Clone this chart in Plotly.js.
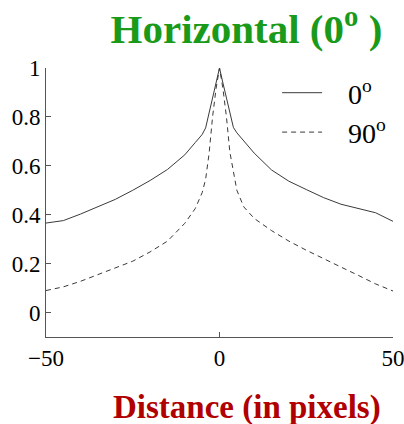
<!DOCTYPE html>
<html><head><meta charset="utf-8">
<script src="https://cdn.plot.ly/plotly-3.0.1.min.js"></script>
<style>body{margin:0;background:#fff}#c{width:404px;height:424px}</style>
</head><body><div id="c"></div>
<script>
const distance = [-50,-45,-40,-35,-30,-25,-20,-15,-10,-7,-5,-4,-3,-2,-1,0,1,2,3,4,5,7,10,15,20,25,30,35,40,45,50];
const horiz0 = [0.366,0.376,0.403,0.433,0.463,0.500,0.540,0.585,0.645,0.695,0.728,0.755,0.815,0.875,0.938,1.0,0.938,0.875,0.815,0.757,0.735,0.700,0.652,0.583,0.537,0.503,0.470,0.443,0.427,0.408,0.373];
const horiz90 = [0.090,0.105,0.128,0.155,0.185,0.210,0.248,0.292,0.365,0.425,0.490,0.545,0.650,0.800,0.915,1.0,0.915,0.800,0.655,0.570,0.500,0.432,0.385,0.335,0.292,0.255,0.222,0.186,0.152,0.117,0.088];
const xTicks = [-50,0,50];
const xTickText = ['\u221250','0','50'];
const yTicks = [0,0.2,0.4,0.6,0.8,1];
const yTickText = ['0','0.2','0.4','0.6','0.8','1'];

const serif = 'Liberation Serif, Times New Roman, serif';
const data = [
  {x: distance, y: horiz0, mode:'lines', name:'\u00a0\u00a0\u00a00<sup>o</sup>', line:{color:'#3a3a3a', width:1, dash:'solid'}},
  {x: distance, y: horiz90, mode:'lines', name:'\u00a0\u00a0\u00a090<sup>o</sup>', line:{color:'#3a3a3a', width:1, dash:'5px,4px'}}
];
const layout = {
  width:404, height:424,
  margin:{l:46, r:11, t:68, b:87, autoexpand:false},
  paper_bgcolor:'#fff', plot_bgcolor:'#fff',
  font:{family:serif, color:'#000', size:23},
  title:{text:'<b>Horizontal (0<sup>o</sup> )</b>', font:{family:serif, size:41, color:'#1a9a1a'}, x:0.61, xanchor:'center', y:1-29/424, yanchor:'middle', yref:'container'},
  xaxis:{range:[-50,50], tickvals:xTicks, ticktext:xTickText, ticks:'inside', ticklen:5, tickcolor:'#555',
         showline:true, linecolor:'#555', linewidth:1, showgrid:false, zeroline:false, mirror:false, automargin:false,
         ticklabeloverflow:'allow', tickfont:{family:serif, size:23, color:'#000'}},
  yaxis:{range:[-0.1,1], tickvals:yTicks, ticktext:yTickText, ticks:'inside', ticklen:5, tickcolor:'#555',
         showline:true, linecolor:'#555', linewidth:1, showgrid:false, zeroline:false, mirror:false, automargin:false,
         tickfont:{family:serif, size:23, color:'#000'}},
  showlegend:true,
  legend:{x:0.666, y:1.0, xanchor:'left', yanchor:'top', bgcolor:'rgba(0,0,0,0)', font:{family:serif, size:28, color:'#000'}, itemwidth:40},
  annotations:[
    {text:'<b>Distance (in pixels)</b>', xref:'paper', yref:'paper', x:0.579, y:-(407-337)/269, xanchor:'center', yanchor:'middle', showarrow:false,
     font:{family:serif, size:33, color:'#b00000'}}
  ]
};
Plotly.newPlot('c', data, layout, {staticPlot:true});
</script></body></html>
